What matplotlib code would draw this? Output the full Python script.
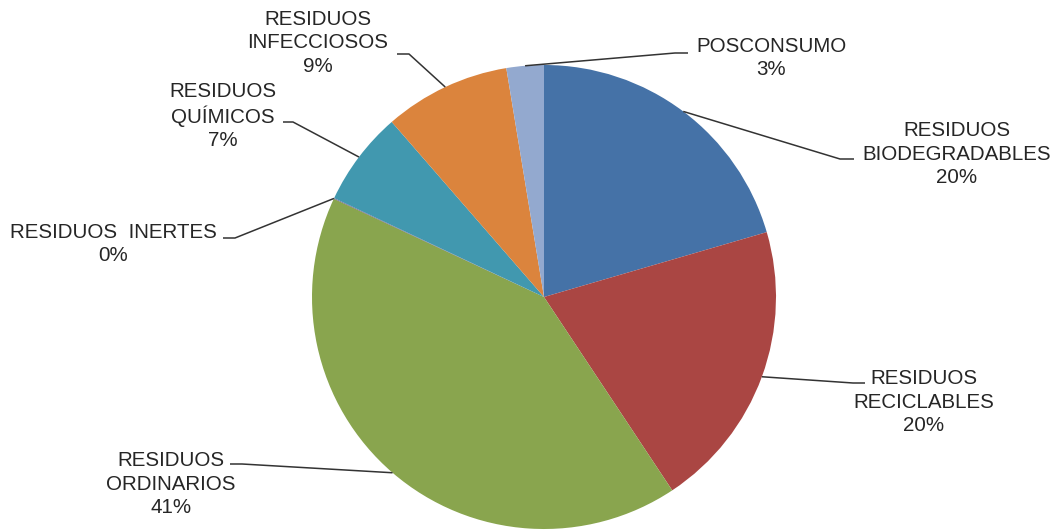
import numpy as np
import matplotlib
matplotlib.use("Agg")
import matplotlib.pyplot as plt

# Data
categories = ["RESIDUOS\nBIODEGRADABLES", "RESIDUOS\nRECICLABLES", "RESIDUOS\nORDINARIOS",
              "RESIDUOS  INERTES", "RESIDUOS\nQUÍMICOS", "RESIDUOS\nINFECCIOSOS", "POSCONSUMO"]
values = [20.5, 20.2, 41.3, 0.05, 6.6, 8.8, 2.6]
colors = ["#4572A7", "#AA4643", "#89A54E", "#71588F", "#4198AF", "#DB843D", "#93A9CF"]

# Label layout (pixel coords): text center, elbow of leader line, end of leader line
text_pos = [(957, 154), (924, 402), (171, 484), (113, 244), (223, 116), (318, 43), (771, 58)]
elbow = [(840, 159), (853, 383), (242, 464), (235, 238), (293, 122), (409, 54), (675, 53)]
line_end = [854, 865, 230, 223, 283, 397, 688]

W, H = 1056, 531
cx, cy, R = 544, 297, 232

plt.rcParams['font.family'] = ['Liberation Sans', 'DejaVu Sans']
fig = plt.figure(figsize=(W / 100, H / 100), dpi=100)
ax = fig.add_axes([0, 0, 1, 1])

wedges, _ = ax.pie(values, colors=colors, center=(cx, cy), radius=R,
                   startangle=-90, counterclock=True, frame=True,
                   wedgeprops=dict(linewidth=0))
ax.set_xlim(0, W)
ax.set_ylim(H, 0)  # y grows downward, so angles run clockwise on screen
ax.set_aspect('equal')
ax.axis('off')

total = sum(values)
txt_color = "#262626"
for i, w in enumerate(wedges):
    mid = np.deg2rad((w.theta1 + w.theta2) / 2)
    ax0 = cx + R * np.cos(mid)
    ay0 = cy + R * np.sin(mid)
    ex, ey = elbow[i]
    ax.plot([ax0, ex, line_end[i]], [ay0, ey, ey], color="#333333", lw=1.1,
            solid_capstyle='butt')
    pct = round(values[i] / total * 100)
    ax.text(text_pos[i][0], text_pos[i][1], f"{categories[i]}\n{pct}%",
            ha='center', va='center', multialignment='center',
            fontsize=14.8, color=txt_color, linespacing=1.28)

fig.savefig("out.png", dpi=100)
